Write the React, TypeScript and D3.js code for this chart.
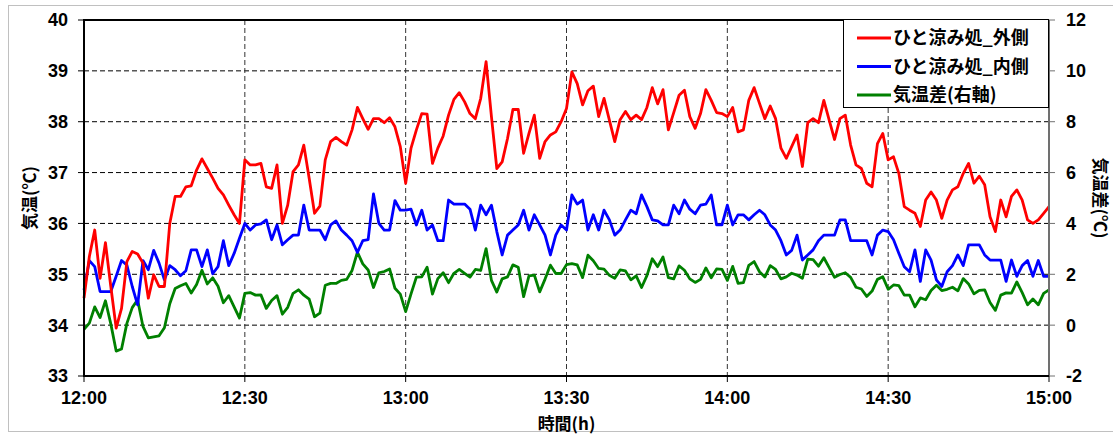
import React from "react";
import * as d3 from "d3";

// minutes after 12:00, one reading per minute
const outside = [
  34.53, 35.35, 35.87, 34.92, 35.62, 34.76, 33.94, 34.33, 35.25, 35.45,
  35.40, 35.22, 34.53, 34.99, 34.76, 34.76, 36.00, 36.53, 36.53, 36.72,
  36.74, 37.05, 37.27, 37.08, 36.89, 36.69, 36.56, 36.36, 36.17, 36.00,
  37.25, 37.15, 37.15, 37.18, 36.72, 36.69, 37.15, 36.00, 36.36, 37.02,
  37.15, 37.54, 36.89, 36.20, 36.34, 37.25, 37.61, 37.69, 37.61, 37.54,
  37.84, 38.28, 38.06, 37.85, 38.06, 38.06, 37.98, 38.08, 37.90, 37.51,
  36.79, 37.48, 37.84, 38.16, 38.15, 37.18, 37.48, 37.72, 38.13, 38.44,
  38.57, 38.39, 38.16, 38.06, 38.46, 39.18, 38.10, 37.08, 37.21, 37.67,
  38.24, 38.24, 37.38, 37.77, 38.13, 37.28, 37.61, 37.74, 37.80, 38.00,
  38.26, 38.98, 38.75, 38.33, 38.61, 38.70, 38.10, 38.46, 38.03, 37.61,
  38.04, 38.20, 38.04, 38.13, 38.04, 38.28, 38.67, 38.35, 38.63, 37.84,
  38.18, 38.52, 38.62, 38.10, 37.87, 38.16, 38.63, 38.42, 38.18, 38.16,
  38.10, 38.28, 37.80, 37.84, 38.42, 38.67, 38.36, 38.06, 38.31, 38.06,
  37.48, 37.28, 37.51, 37.74, 37.12, 37.98, 38.06, 37.98, 38.42, 38.03,
  37.65, 38.06, 38.13, 37.54, 37.15, 37.08, 36.79, 36.72, 37.57, 37.77,
  37.25, 37.31, 36.98, 36.33, 36.26, 36.20, 35.94, 36.46, 36.62, 36.46,
  36.10, 36.46, 36.66, 36.72, 36.98, 37.18, 36.79, 36.93, 36.76, 36.13,
  35.84, 36.46, 36.13, 36.53, 36.66, 36.46, 36.07, 36.00, 36.07, 36.20,
  36.33,
];

const inside = [
  34.69, 35.27, 35.15, 34.66, 34.66, 34.66, 34.96, 35.27, 35.18, 34.76,
  34.40, 35.27, 35.09, 35.47, 35.22, 34.89, 35.17, 35.09, 34.97, 35.07,
  35.48, 35.48, 35.15, 35.48, 35.01, 35.15, 35.66, 35.17, 35.41, 35.71,
  36.00, 35.87, 35.97, 35.99, 36.07, 35.68, 35.97, 35.58, 35.68, 35.77,
  35.77, 36.36, 35.87, 35.87, 35.87, 35.68, 35.97, 36.05, 35.87, 35.77,
  35.66, 35.43, 35.66, 35.68, 36.58, 36.00, 35.87, 35.87, 36.45, 36.26,
  36.26, 36.28, 35.97, 36.26, 35.87, 35.97, 35.66, 35.66, 36.46, 36.38,
  36.38, 36.38, 36.28, 35.87, 36.36, 36.17, 36.36, 35.84, 35.38, 35.77,
  35.87, 35.97, 36.26, 35.87, 36.17, 35.97, 35.77, 35.38, 35.77, 35.97,
  35.87, 36.56, 36.38, 36.46, 35.87, 36.17, 35.87, 36.26, 36.07, 35.77,
  35.87, 36.07, 36.26, 36.19, 36.56, 36.33, 36.07, 36.05, 35.97, 35.97,
  36.36, 36.19, 36.46, 36.28, 36.19, 36.36, 36.38, 36.56, 35.97, 35.97,
  36.36, 35.97, 36.17, 36.17, 36.07, 36.17, 36.26, 36.17, 35.97, 35.87,
  35.66, 35.38, 35.47, 35.77, 35.28, 35.38, 35.48, 35.66, 35.77, 35.77,
  35.77, 36.07, 36.07, 35.66, 35.66, 35.66, 35.66, 35.38, 35.77, 35.87,
  35.84, 35.68, 35.41, 35.15, 35.05, 35.48, 34.86, 35.48, 35.28, 34.89,
  34.76, 35.05, 35.17, 35.38, 35.17, 35.58, 35.58, 35.58, 35.38, 35.28,
  35.28, 35.28, 34.86, 35.28, 34.96, 35.17, 35.27, 34.96, 35.27, 34.96,
  34.96,
];

const difference = [
  -0.16, 0.08, 0.72, 0.30, 0.96, 0.05, -1.02, -0.94, 0.07, 0.69,
  1.00, -0.05, -0.50, -0.46, -0.42, -0.10, 0.84, 1.44, 1.55, 1.64,
  1.26, 1.60, 2.16, 1.62, 1.86, 1.53, 0.88, 1.16, 0.72, 0.28,
  1.25, 1.28, 1.18, 1.19, 0.66, 0.97, 1.16, 0.43, 0.70, 1.25,
  1.39, 1.18, 1.02, 0.33, 0.47, 1.57, 1.64, 1.64, 1.76, 1.80,
  2.15, 2.87, 2.41, 2.17, 1.48, 2.06, 2.11, 2.21, 1.45, 1.22,
  0.53, 1.23, 1.89, 1.90, 2.28, 1.22, 1.83, 2.06, 1.67, 2.04,
  2.19, 2.04, 1.89, 2.19, 2.15, 3.01, 1.76, 1.30, 1.82, 1.90,
  2.37, 2.28, 1.12, 1.94, 1.97, 1.31, 1.81, 2.36, 2.03, 2.03,
  2.38, 2.42, 2.37, 1.87, 2.75, 2.53, 2.23, 2.20, 1.96, 1.84,
  2.17, 2.13, 1.78, 1.94, 1.48, 1.95, 2.61, 2.30, 2.68, 1.87,
  1.82, 2.33, 2.16, 1.82, 1.68, 1.80, 2.25, 1.86, 2.21, 2.19,
  1.76, 2.31, 1.64, 1.67, 2.35, 2.50, 2.10, 1.89, 2.34, 2.19,
  1.82, 1.90, 2.04, 1.97, 1.84, 2.60, 2.58, 2.32, 2.65, 2.26,
  1.88, 1.99, 2.06, 1.88, 1.49, 1.42, 1.13, 1.34, 1.80, 1.90,
  1.41, 1.58, 1.55, 1.18, 1.18, 0.72, 1.07, 1.00, 1.36, 1.57,
  1.36, 1.41, 1.49, 1.35, 1.83, 1.62, 1.23, 1.37, 1.39, 0.89,
  0.58, 1.18, 1.27, 1.26, 1.70, 1.28, 0.80, 1.03, 0.80, 1.25,
  1.39,
];

const timeTicks = [0, 30, 60, 90, 120, 150, 180];
const timeLabels = ["12:00", "12:30", "13:00", "13:30", "14:00", "14:30", "15:00"];
const leftTicks = [33, 34, 35, 36, 37, 38, 39, 40];
const rightTicks = [-2, 0, 2, 4, 6, 8, 10, 12];

const seriesNames = ["ひと涼み処_外側", "ひと涼み処_内側", "気温差(右軸)"];
const seriesColors = ["#ff0000", "#0000ff", "#008000"];

const W = 1113;
const H = 437;
const margin = { top: 20, right: 64, bottom: 61, left: 84 };

const numFont = "'Liberation Sans', Arial, sans-serif";
const jpFont = "'Noto Sans CJK JP', 'Noto Sans', sans-serif";

export default function App() {
  const x = d3.scaleLinear().domain([0, 180]).range([margin.left, W - margin.right]);
  const yL = d3.scaleLinear().domain([33, 40]).range([H - margin.bottom, margin.top]);
  const yR = d3.scaleLinear().domain([-2, 12]).range([H - margin.bottom, margin.top]);

  const lineL = d3.line<number>().x((_, i) => x(i)).y(d => yL(d));
  const lineR = d3.line<number>().x((_, i) => x(i)).y(d => yR(d));

  const x0 = x(0), x1 = x(180), y0 = yL(33), y1 = yL(40);
  const legX = 843, legY = 19;

  return (
    <svg width={W} height={H} style={{ position: "absolute", left: 0, top: 0 }}>
      <rect x={0} y={0} width={W} height={H} fill="#fff" />
      <rect x={8.5} y={5.5} width={W} height={426} fill="none" stroke="#c0c0c0" />

      {/* grid */}
      {leftTicks.slice(1, -1).map(t => (
        <line key={"h" + t} x1={x0} x2={x1} y1={yL(t)} y2={yL(t)}
          stroke="#000" strokeWidth={1} strokeDasharray="5,3" />
      ))}
      {timeTicks.slice(1, -1).map(t => (
        <line key={"v" + t} x1={x(t)} x2={x(t)} y1={y1} y2={y0}
          stroke="#333" strokeWidth={1} strokeDasharray="5,3" />
      ))}

      {/* series */}
      <path d={lineR(difference) ?? ""} fill="none" stroke={seriesColors[2]} strokeWidth={2.8} strokeLinejoin="round" />
      <path d={lineL(inside) ?? ""} fill="none" stroke={seriesColors[1]} strokeWidth={2.8} strokeLinejoin="round" />
      <path d={lineL(outside) ?? ""} fill="none" stroke={seriesColors[0]} strokeWidth={2.8} strokeLinejoin="round" />

      {/* frame */}
      <line x1={x0} x2={x1} y1={y1} y2={y1} stroke="#000" strokeWidth={2} />
      <line x1={x1} x2={x1} y1={y1} y2={y0} stroke="#707070" strokeWidth={2} />
      <line x1={x0} x2={x0} y1={y1 - 1} y2={y0 + 1} stroke="#000" strokeWidth={2} />
      <line x1={x0} x2={x1} y1={y0} y2={y0} stroke="#000" strokeWidth={2} />

      {/* left axis */}
      {leftTicks.map(t => (
        <g key={"l" + t}>
          <line x1={x0 - 6} x2={x0} y1={yL(t)} y2={yL(t)} stroke="#000" strokeWidth={1} />
          <text x={x0 - 16} y={yL(t)} dy="0.36em" textAnchor="end"
            fontFamily={numFont} fontWeight="bold" fontSize={18}>{t}</text>
        </g>
      ))}

      {/* right axis */}
      {rightTicks.map(t => (
        <g key={"r" + t}>
          <line x1={x1} x2={x1 + 6} y1={yR(t)} y2={yR(t)} stroke="#707070" strokeWidth={1} />
          <text x={x1 + 17} y={yR(t)} dy="0.36em" textAnchor="start"
            fontFamily={numFont} fontWeight="bold" fontSize={18}>{t}</text>
        </g>
      ))}

      {/* bottom axis */}
      {timeTicks.map((t, i) => (
        <g key={"b" + t}>
          <line x1={x(t)} x2={x(t)} y1={y0} y2={y0 + 6} stroke="#000" strokeWidth={1} />
          <text x={x(t)} y={y0 + 22} dy="0.36em" textAnchor="middle"
            fontFamily={numFont} fontWeight="bold" fontSize={18}>{timeLabels[i]}</text>
        </g>
      ))}

      {/* axis titles */}
      <text x={(x0 + x1) / 2} y={424} dy="0.36em" textAnchor="middle"
        fontFamily={jpFont} fontWeight="bold" fontSize={17}>時間(h)</text>
      <text transform={`translate(30,${(y0 + y1) / 2}) rotate(-90)`} dy="0.36em" textAnchor="middle"
        fontFamily={jpFont} fontWeight="bold" fontSize={17}>気温(℃)</text>
      <text transform={`translate(1100,${(y0 + y1) / 2}) rotate(90)`} dy="0.36em" textAnchor="middle"
        fontFamily={jpFont} fontWeight="bold" fontSize={17}>気温差(℃)</text>

      {/* legend */}
      <rect x={legX + 0.5} y={legY + 0.5} width={x1 - legX - 1} height={88} fill="#fff" stroke="#000" strokeWidth={1} />
      {seriesNames.map((name, i) => {
        const ly = legY + 19 + i * 28.5;
        return (
          <g key={name}>
            <line x1={legX + 14} x2={legX + 48} y1={ly} y2={ly} stroke={seriesColors[i]} strokeWidth={3} />
            <text x={legX + 50} y={ly} dy="0.36em" fontFamily={jpFont} fontWeight="bold" fontSize={18}>{name}</text>
          </g>
        );
      })}
    </svg>
  );
}
